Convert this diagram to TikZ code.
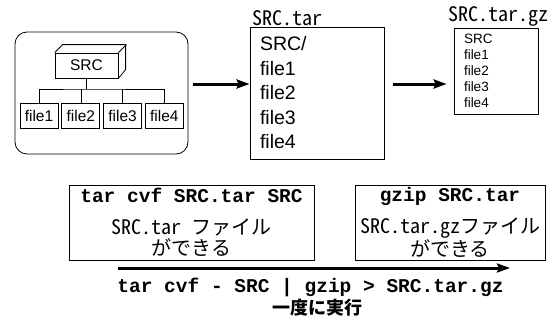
\documentclass[tikz,border=0pt]{standalone}
\usepackage{fontspec}
\setmainfont{Liberation Sans}
\setmonofont{Liberation Mono}
\newfontfamily\jpfont{Noto Sans CJK JP}[RawFeature=+hwid]
\usepackage{tikz}
\usetikzlibrary{positioning,arrows.meta}

\begin{document}
\begin{tikzpicture}[
    x=1pt, y=-1pt,
    >=Stealth,
    every node/.style={align=center},
    box/.style={draw, line width=0.8pt, inner sep=0pt},
    filebox/.style={box, minimum width=38pt, minimum height=25pt, font=\fontsize{15.5}{17}\selectfont},
    namelabel/.style={anchor=south west, inner sep=1pt, font=\jpfont\fontsize{20}{22}\selectfont},
    cmdbox/.style={box, minimum height=75pt, font=\fontsize{20}{21.5}\selectfont},
    bigarrow/.style={-{Stealth[length=13pt, width=9pt, inset=2pt]}, line width=3pt}
]
\useasboundingbox (0,0) rectangle (555,324);

% Directory tree
\node[box, rounded corners=12pt, minimum width=173pt, minimum height=122pt] (dir) at (101.5,93) {};
\node[box, minimum width=63pt, minimum height=25pt, font=\fontsize{15.5}{17}\selectfont] (src) at (86.5,65.5) {SRC};
\draw[line width=0.8pt] (src.north west) -- ++(8,-8) -- ++(63,0) -- ++(0,25) -- (src.south east);
\draw[line width=0.8pt] (src.north east) -- ++(8,-8);

\node[filebox] (f1) at (39,115.5) {file1};
\node[filebox, right=3pt of f1] (f2) {file2};
\node[filebox, right=3pt of f2] (f3) {file3};
\node[filebox, right=3pt of f3] (f4) {file4};

\coordinate (bus) at (86.5,89);
\draw[line width=0.6pt] (src.south) -- (bus);
\draw[line width=0.6pt] (f1.north) |- (bus) -| (f4.north);
\draw[line width=0.6pt] (f2.north) -- (f2.north |- bus);
\draw[line width=0.6pt] (f3.north) -- (f3.north |- bus);

% Archive and compressed archive
\node[box, text width=114pt, inner xsep=10pt, minimum height=132pt, align=left,
      font=\fontsize{19.5}{24.5}\selectfont] (tar) at (317,93) {SRC/\\file1\\file2\\file3\\file4};
\node[namelabel, xshift=2pt] (tarname) at (tar.north west) {SRC.tar};

\node[box, text width=64pt, inner xsep=10pt, minimum height=86pt, align=left,
      font=\fontsize{13.5}{16}\selectfont] (gz) at (496,71) {SRC\\file1\\file2\\file3\\file4};
\node[namelabel, xshift=-6pt] (gzname) at (gz.north west) {SRC.tar.gz};

\draw[bigarrow, shorten <=5pt] ([yshift=9pt]dir.east) -- ([yshift=9pt]tar.west);
\draw[bigarrow, shorten <=9pt, shorten >=7pt] ([yshift=9pt]tar.east) -- ([yshift=-13pt]gz.west);

% Commands
\node[cmdbox, minimum width=245pt] (mktar) at (191.5,222.5) {%
    {\ttfamily\bfseries\fontsize{19.5}{21}\selectfont tar cvf SRC.tar SRC}\\[10pt]
    {\jpfont SRC.tar ファイル}\\
    {\jpfont ができる}};
\node[cmdbox, minimum width=190pt] (mkgz) at (450,222.5) {%
    {\ttfamily\bfseries\fontsize{19.5}{21}\selectfont gzip SRC.tar}\\[10pt]
    {\jpfont SRC.tar.gzファイル}\\
    {\jpfont ができる}};

\coordinate (runS) at (118,268);
\coordinate (runE) at (510,268);
\draw[bigarrow] (runS) -- (runE);

\node[font=\ttfamily\bfseries\fontsize{19.5}{22}\selectfont] (pipe) at (310.5,287) {tar cvf - SRC | gzip > SRC.tar.gz};
\node[font=\jpfont\bfseries\fontsize{18}{20}\selectfont] (once) at (317,308) {一度に実行};
\end{tikzpicture}
\end{document}
